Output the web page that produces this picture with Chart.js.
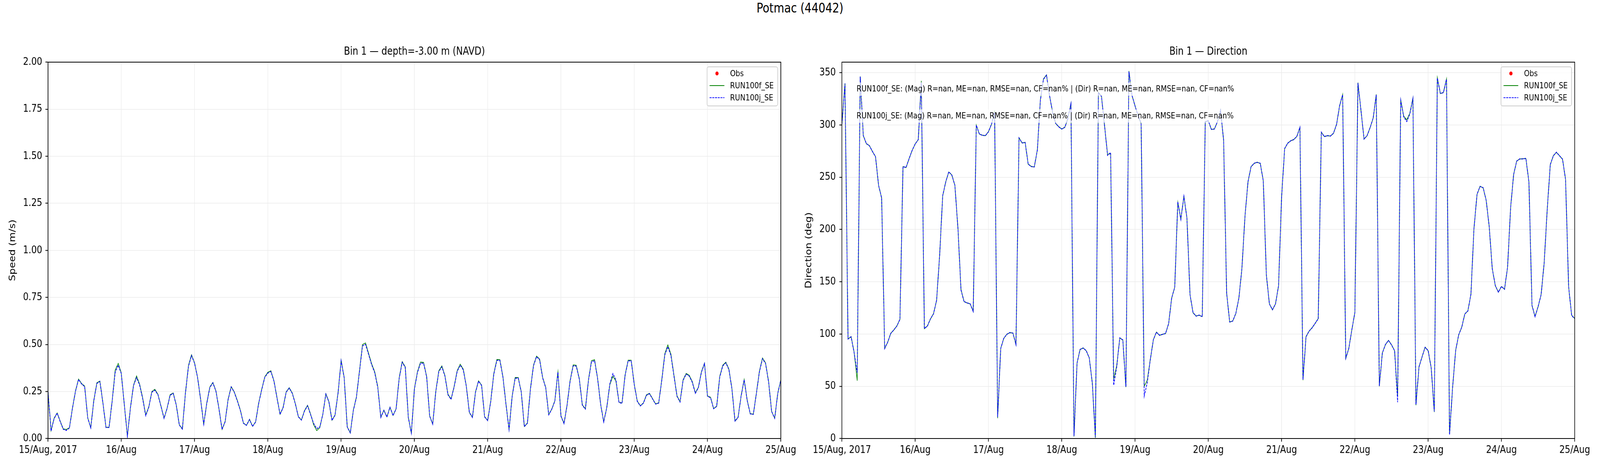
<!DOCTYPE html>
<html>
<head>
<meta charset="utf-8">
<title>Potmac (44042)</title>
<script src="https://cdn.jsdelivr.net/npm/chart.js@4.4.1/dist/chart.umd.min.js"></script>
<style>
    html, body { margin: 0; padding: 0; width: 100%; height: 100%; overflow: hidden; background: #fff; }
    #stage { position: relative; width: 100vw; height: 100vh; overflow: hidden; background: #fff; }
    #wrap { position: absolute; left: 0; top: 0; width: 5000px; height: 1200px; background: #fff; transform-origin: 0 0; }
    #suptitle {
        position: absolute; left: 0; top: 0; width: 5000px;
        text-align: center; font: 34px "DejaVu Sans", sans-serif; line-height: 40px; color: #000;
    }
    canvas { position: absolute; top: 0; }
</style>
</head>
<body>
<div id="stage">
<div id="wrap">
    <div id="suptitle">Potmac (44042)</div>
    <canvas id="speed-chart" width="2500" height="1200" style="left:0"></canvas>
    <canvas id="dir-chart" width="2500" height="1200" style="left:2500px"></canvas>
</div>
</div>
<script>
// Hourly samples, 15/Aug/2017 00:00 -> 25/Aug/2017 00:00 (hour index 0..240)
const dayTicks = [0, 24, 48, 72, 96, 120, 144, 168, 192, 216, 240];
const dayLabels = ['15/Aug, 2017', '16/Aug', '17/Aug', '18/Aug', '19/Aug', '20/Aug',
    '21/Aug', '22/Aug', '23/Aug', '24/Aug', '25/Aug'];

const speedTicks = [0, 0.25, 0.5, 0.75, 1.0, 1.25, 1.5, 1.75, 2.0];
const dirTicks = [0, 50, 100, 150, 200, 250, 300, 350];

// No observations in this window
const obsSpeed = [];
const obsDir = [];

// Bin 1 speed (m/s)
const speedF = [
    0.250, 0.042, 0.108, 0.136, 0.092, 0.051, 0.048, 0.057, 0.161, 0.253, 0.316, 0.292,
    0.279, 0.111, 0.057, 0.203, 0.296, 0.305, 0.187, 0.059, 0.060, 0.199, 0.364, 0.399,
    0.348, 0.179, 0.014, 0.165, 0.283, 0.332, 0.289, 0.217, 0.125, 0.168, 0.249, 0.262,
    0.235, 0.173, 0.108, 0.161, 0.233, 0.242, 0.179, 0.073, 0.051, 0.241, 0.388, 0.445,
    0.402, 0.324, 0.206, 0.076, 0.189, 0.274, 0.298, 0.253, 0.158, 0.048, 0.090, 0.210,
    0.276, 0.248, 0.203, 0.151, 0.082, 0.070, 0.102, 0.065, 0.089, 0.189, 0.262, 0.328,
    0.352, 0.360, 0.307, 0.217, 0.129, 0.166, 0.248, 0.270, 0.242, 0.186, 0.116, 0.099,
    0.148, 0.177, 0.130, 0.073, 0.042, 0.057, 0.129, 0.238, 0.196, 0.097, 0.125, 0.244,
    0.416, 0.325, 0.062, 0.030, 0.151, 0.220, 0.359, 0.499, 0.508, 0.452, 0.397, 0.355,
    0.276, 0.113, 0.151, 0.115, 0.167, 0.123, 0.158, 0.321, 0.409, 0.381, 0.113, 0.028,
    0.265, 0.355, 0.406, 0.405, 0.331, 0.120, 0.076, 0.251, 0.360, 0.386, 0.334, 0.235,
    0.210, 0.276, 0.360, 0.395, 0.369, 0.279, 0.139, 0.113, 0.247, 0.307, 0.284, 0.116,
    0.096, 0.199, 0.345, 0.420, 0.419, 0.328, 0.182, 0.047, 0.224, 0.324, 0.324, 0.248,
    0.064, 0.082, 0.265, 0.390, 0.438, 0.422, 0.325, 0.272, 0.127, 0.157, 0.201, 0.355,
    0.120, 0.080, 0.179, 0.309, 0.391, 0.389, 0.319, 0.179, 0.158, 0.312, 0.414, 0.419,
    0.320, 0.182, 0.089, 0.165, 0.286, 0.331, 0.305, 0.193, 0.189, 0.338, 0.416, 0.416,
    0.289, 0.199, 0.174, 0.189, 0.232, 0.240, 0.212, 0.184, 0.189, 0.310, 0.450, 0.497,
    0.449, 0.338, 0.227, 0.196, 0.312, 0.346, 0.336, 0.303, 0.243, 0.272, 0.355, 0.400,
    0.226, 0.219, 0.159, 0.172, 0.331, 0.390, 0.406, 0.369, 0.265, 0.093, 0.113, 0.227,
    0.314, 0.203, 0.132, 0.129, 0.241, 0.359, 0.428, 0.402, 0.303, 0.144, 0.108, 0.241,
    0.312
];
const speedJ = [
    0.250, 0.040, 0.106, 0.135, 0.090, 0.049, 0.043, 0.056, 0.160, 0.251, 0.314, 0.290,
    0.276, 0.110, 0.056, 0.201, 0.293, 0.303, 0.186, 0.058, 0.059, 0.197, 0.352, 0.390,
    0.345, 0.178, 0.013, 0.163, 0.281, 0.324, 0.284, 0.212, 0.121, 0.166, 0.246, 0.257,
    0.233, 0.171, 0.107, 0.160, 0.230, 0.240, 0.178, 0.072, 0.050, 0.239, 0.383, 0.441,
    0.400, 0.322, 0.205, 0.076, 0.187, 0.271, 0.296, 0.251, 0.157, 0.048, 0.089, 0.208,
    0.274, 0.246, 0.200, 0.149, 0.081, 0.070, 0.101, 0.064, 0.088, 0.187, 0.260, 0.325,
    0.348, 0.356, 0.305, 0.215, 0.128, 0.164, 0.246, 0.268, 0.240, 0.184, 0.115, 0.098,
    0.146, 0.174, 0.127, 0.080, 0.053, 0.060, 0.128, 0.236, 0.194, 0.096, 0.124, 0.242,
    0.414, 0.322, 0.061, 0.030, 0.149, 0.218, 0.355, 0.492, 0.500, 0.447, 0.392, 0.350,
    0.271, 0.112, 0.150, 0.114, 0.166, 0.122, 0.157, 0.318, 0.405, 0.378, 0.112, 0.028,
    0.263, 0.351, 0.400, 0.400, 0.328, 0.119, 0.076, 0.249, 0.356, 0.381, 0.331, 0.232,
    0.208, 0.273, 0.356, 0.390, 0.365, 0.277, 0.138, 0.112, 0.245, 0.305, 0.282, 0.115,
    0.095, 0.197, 0.342, 0.415, 0.415, 0.325, 0.180, 0.047, 0.222, 0.320, 0.321, 0.246,
    0.063, 0.081, 0.262, 0.386, 0.435, 0.419, 0.322, 0.270, 0.126, 0.156, 0.199, 0.353,
    0.119, 0.079, 0.177, 0.306, 0.386, 0.385, 0.316, 0.177, 0.156, 0.309, 0.408, 0.414,
    0.318, 0.180, 0.088, 0.164, 0.290, 0.345, 0.312, 0.191, 0.187, 0.335, 0.413, 0.413,
    0.286, 0.197, 0.173, 0.188, 0.230, 0.238, 0.210, 0.183, 0.188, 0.307, 0.444, 0.488,
    0.442, 0.333, 0.224, 0.194, 0.309, 0.342, 0.332, 0.299, 0.240, 0.270, 0.352, 0.398,
    0.224, 0.217, 0.158, 0.171, 0.327, 0.386, 0.402, 0.366, 0.262, 0.092, 0.112, 0.225,
    0.312, 0.201, 0.131, 0.128, 0.239, 0.355, 0.424, 0.399, 0.300, 0.143, 0.107, 0.239,
    0.310
];

// Bin 1 direction (deg)
const dirF = [
    300.6, 339.7, 95.1, 97.5, 82.7, 55.3, 346.3, 289.6, 281.9, 280.2, 274.4, 269.7,
    242.0, 230.3, 86.2, 92.1, 100.7, 103.8, 107.8, 113.9, 260.1, 259.1, 267.8, 275.5,
    281.9, 285.8, 342.1, 105.0, 107.8, 114.3, 119.5, 131.9, 175.3, 232.0, 245.6, 254.9,
    252.1, 242.0, 201.0, 142.5, 131.2, 129.6, 128.9, 121.4, 299.9, 291.2, 290.1, 289.6,
    293.6, 300.6, 312.3, 19.4, 86.2, 95.6, 99.8, 101.2, 101.0, 89.7, 287.7, 282.6,
    283.3, 262.4, 260.3, 259.6, 276.0, 324.0, 344.0, 347.9, 327.6, 312.3, 301.3, 298.3,
    295.9, 297.8, 305.8, 320.5, 1.9, 72.2, 85.1, 86.7, 83.9, 77.3, 53.4, 0.7,
    331.1, 327.6, 299.4, 271.8, 272.5, 56.9, 69.8, 96.1, 94.4, 49.2, 351.5, 328.0,
    318.2, 308.8, 301.3, 49.9, 55.8, 75.7, 94.4, 101.9, 98.6, 99.8, 100.3, 110.1,
    134.3, 144.8, 226.1, 209.9, 231.5, 210.9, 137.8, 120.2, 117.2, 117.9, 116.7, 303.0,
    304.1, 295.5, 296.2, 303.0, 314.0, 285.4, 138.9, 111.3, 112.5, 119.5, 134.3, 162.4,
    212.7, 245.6, 260.1, 263.1, 264.3, 263.1, 246.7, 156.5, 128.9, 123.0, 128.9, 146.0,
    231.5, 277.2, 282.6, 284.7, 286.1, 288.9, 297.8, 55.8, 97.5, 102.6, 106.1, 110.1,
    114.8, 292.9, 288.9, 289.6, 289.4, 291.9, 300.6, 318.2, 329.2, 76.4, 86.2, 103.8,
    120.9, 340.4, 313.5, 286.5, 289.6, 297.6, 306.5, 329.2, 49.9, 82.0, 89.7, 94.0,
    89.7, 83.9, 40.5, 324.0, 308.3, 304.8, 311.2, 325.7, 31.9, 68.7, 78.0, 87.4,
    83.9, 67.5, 25.3, 345.1, 329.9, 331.1, 344.0, 4.2, 48.7, 84.3, 99.1, 106.6,
    119.0, 122.1, 137.8, 201.0, 233.4, 241.3, 239.7, 228.0, 202.2, 162.4, 146.0, 140.1,
    145.3, 142.9, 163.5, 220.9, 252.6, 265.5, 267.3, 267.6, 267.8, 245.6, 127.2, 116.7,
    126.0, 137.8, 168.2, 219.7, 261.9, 270.6, 273.7, 270.6, 267.1, 247.9, 144.8, 117.9,
    114.8
];
const dirJ = [
    300.4, 339.5, 95.3, 97.2, 82.0, 63.0, 346.0, 289.8, 282.1, 280.0, 274.6, 269.5,
    242.3, 230.1, 86.0, 92.3, 100.5, 103.9, 107.6, 114.1, 260.0, 259.3, 267.6, 275.7,
    281.7, 285.9, 340.5, 105.2, 107.6, 114.5, 119.3, 132.2, 175.0, 232.3, 245.4, 255.1,
    251.9, 242.2, 200.6, 142.0, 130.8, 129.8, 128.7, 121.6, 299.7, 291.4, 289.9, 289.8,
    293.4, 300.8, 312.0, 20.5, 86.0, 95.8, 99.6, 101.4, 100.8, 89.9, 287.5, 282.8,
    283.1, 262.6, 260.1, 259.8, 275.8, 323.6, 343.6, 347.5, 327.9, 312.0, 301.5, 298.1,
    296.1, 297.6, 306.0, 320.2, 2.4, 72.0, 85.3, 86.5, 84.1, 77.1, 53.0, 1.2,
    330.6, 327.2, 299.6, 270.8, 273.5, 51.0, 68.5, 96.3, 94.2, 49.5, 351.0, 328.3,
    318.0, 309.0, 301.1, 40.5, 53.5, 75.5, 94.6, 101.7, 98.8, 99.6, 100.5, 109.9,
    134.5, 144.6, 226.5, 209.5, 231.8, 210.6, 137.6, 120.4, 117.0, 118.1, 116.5, 303.2,
    303.9, 295.7, 296.0, 303.2, 313.6, 285.6, 138.6, 111.5, 112.3, 119.7, 134.1, 162.7,
    212.4, 245.8, 259.9, 263.3, 264.1, 263.3, 246.4, 156.8, 128.7, 123.2, 128.7, 146.2,
    231.2, 277.4, 282.4, 284.9, 285.9, 289.1, 297.6, 56.3, 97.3, 102.8, 105.9, 110.3,
    114.6, 293.1, 288.7, 289.8, 289.2, 292.1, 300.4, 318.5, 328.9, 76.7, 86.0, 104.0,
    120.7, 340.0, 313.8, 286.3, 289.8, 297.4, 306.7, 328.8, 50.3, 81.8, 89.9, 93.8,
    89.5, 84.1, 34.7, 323.6, 307.6, 303.2, 310.4, 325.2, 32.5, 68.5, 78.2, 87.2,
    84.1, 67.3, 25.8, 344.8, 330.1, 330.8, 343.6, 3.6, 48.9, 84.1, 99.3, 106.4,
    119.2, 121.9, 138.0, 200.7, 233.6, 241.1, 239.9, 227.8, 202.5, 162.2, 146.2, 139.9,
    145.5, 142.7, 163.8, 220.6, 252.8, 265.3, 267.5, 267.4, 268.0, 245.3, 127.5, 116.5,
    126.2, 137.6, 168.5, 219.4, 262.1, 270.4, 273.9, 270.4, 267.3, 247.6, 145.1, 117.7,
    114.6
];

const statsText = [
    'RUN100f_SE: (Mag) R=nan, ME=nan, RMSE=nan, CF=nan% | (Dir) R=nan, ME=nan, RMSE=nan, CF=nan%',
    'RUN100j_SE: (Mag) R=nan, ME=nan, RMSE=nan, CF=nan% | (Dir) R=nan, ME=nan, RMSE=nan, CF=nan%'
];

const FONT = '"DejaVu Sans", sans-serif';

// The figure is laid out on a 5000x1200 grid and stretched to fill the real window
const scaleX = window.innerWidth / 5000;
const scaleY = window.innerHeight / 1200;
document.getElementById('wrap').style.transform = 'scale(' + scaleX + ',' + scaleY + ')';

// hour index -> {x, y}
function toXY(values) {
    return values.map((v, i) => ({ x: i, y: v }));
}

// Subplot title, full box spines, legend and stats text (matplotlib look)
const decorPlugin = {
    id: 'decor',
    afterDraw(chart, args, opts) {
        const ctx = chart.ctx;
        const area = chart.chartArea;
        ctx.save();

        // stats annotations with translucent white box
        ctx.font = '22px ' + FONT;
        ctx.textBaseline = 'middle';
        ctx.textAlign = 'left';
        (opts.notes || []).forEach((txt, i) => {
            const x = area.left + 0.02 * (area.right - area.left);
            const y = area.top + opts.noteY[i] * (area.bottom - area.top);
            const w = ctx.measureText(txt).width;
            ctx.fillStyle = 'rgba(255,255,255,0.7)';
            ctx.fillRect(x - 6, y - 17, w + 12, 34);
            ctx.fillStyle = '#000';
            ctx.fillText(txt, x, y);
        });

        // spines
        ctx.strokeStyle = '#000';
        ctx.lineWidth = 2;
        ctx.strokeRect(area.left, area.top, area.right - area.left, area.bottom - area.top);

        // subplot title
        ctx.fillStyle = '#000';
        ctx.font = '28px ' + FONT;
        ctx.textAlign = 'center';
        ctx.textBaseline = 'middle';
        ctx.fillText(opts.title, (area.left + area.right) / 2, area.top - 26);

        // legend box in upper right corner
        ctx.font = '22px ' + FONT;
        ctx.textAlign = 'left';
        const items = chart.data.datasets;
        const textW = Math.max(...items.map(d => ctx.measureText(d.label).width));
        const boxW = 72 + textW + 12;
        const boxH = 100;
        const bx = area.right - 10 - boxW;
        const by = area.top + 12;
        ctx.fillStyle = 'rgba(255,255,255,0.8)';
        ctx.strokeStyle = '#cccccc';
        ctx.lineWidth = 2;
        ctx.beginPath();
        ctx.roundRect(bx, by, boxW, boxH, 5);
        ctx.fill();
        ctx.stroke();
        items.forEach((d, i) => {
            const cy = by + 17 + i * 31;
            if (d.showLine === false) {
                ctx.fillStyle = d.pointBackgroundColor;
                ctx.beginPath();
                ctx.arc(bx + 31, cy, 5, 0, Math.PI * 2);
                ctx.fill();
            } else {
                ctx.strokeStyle = d.borderColor;
                ctx.lineWidth = d.borderWidth;
                ctx.setLineDash(d.borderDash || []);
                ctx.beginPath();
                ctx.moveTo(bx + 8, cy);
                ctx.lineTo(bx + 54, cy);
                ctx.stroke();
                ctx.setLineDash([]);
            }
            ctx.fillStyle = '#000';
            ctx.fillText(d.label, bx + 72, cy + 1);
        });
        ctx.restore();
    }
};

function makeChart(canvasId, cfg) {
    const gridStyle = { color: '#ebebeb', lineWidth: 1.5, tickLength: 8, tickColor: '#000', tickWidth: 2 };
    return new Chart(document.getElementById(canvasId), {
        type: 'line',
        data: {
            datasets: [
                { label: 'Obs', data: toXY(cfg.obs), showLine: false, pointRadius: 5,
                  pointBackgroundColor: 'red', borderColor: 'red', order: 0 },
                { label: 'RUN100f_SE', data: toXY(cfg.runF), borderColor: 'green', borderWidth: 1.8,
                  pointRadius: 0, fill: false, order: 2 },
                { label: 'RUN100j_SE', data: toXY(cfg.runJ), borderColor: 'blue', borderWidth: 2.2,
                  borderDash: [6, 2.5], pointRadius: 0, fill: false, order: 1 }
            ]
        },
        options: {
            responsive: false,
            animation: false,
            devicePixelRatio: 1,
            layout: { padding: { left: 0, right: cfg.padRight, top: 159, bottom: 0 } },
            plugins: {
                legend: { display: false },
                tooltip: { enabled: false },
                title: { display: false },
                decor: { title: cfg.title, notes: cfg.notes, noteY: [0.0717, 0.1433] }
            },
            scales: {
                x: {
                    type: 'linear',
                    min: 0,
                    max: 240,
                    afterBuildTicks: s => { s.ticks = dayTicks.map(v => ({ value: v })); },
                    afterFit: s => { s.height = 78; },
                    ticks: {
                        callback: v => dayLabels[dayTicks.indexOf(v)],
                        autoSkip: false,
                        maxRotation: 0,
                        padding: 6,
                        color: '#000',
                        font: { family: FONT, size: 27 }
                    },
                    grid: gridStyle,
                    border: { color: '#000', width: 2 }
                },
                y: {
                    min: cfg.yMin,
                    max: cfg.yMax,
                    afterBuildTicks: s => { s.ticks = cfg.yTicks.map(v => ({ value: v })); },
                    afterFit: s => { s.width = cfg.axisWidth; },
                    ticks: {
                        callback: cfg.yFormat,
                        padding: cfg.tickPad,
                        color: '#000',
                        font: { family: FONT, size: 27 }
                    },
                    title: {
                        display: true,
                        text: cfg.yTitle,
                        color: '#000',
                        font: { family: FONT, size: 26 },
                        padding: { top: cfg.titlePad, bottom: 0 }
                    },
                    grid: gridStyle,
                    border: { color: '#000', width: 2 }
                }
            }
        },
        plugins: [decorPlugin]
    });
}

makeChart('speed-chart', {
    obs: obsSpeed, runF: speedF, runJ: speedJ,
    title: 'Bin 1 \u2014 depth=-3.00 m (NAVD)',
    yTitle: 'Speed (m/s)',
    yMin: 0, yMax: 2, yTicks: speedTicks, yFormat: v => v.toFixed(2),
    axisWidth: 150, padRight: 60, tickPad: 10, titlePad: 25,
    notes: []
});

makeChart('dir-chart', {
    obs: obsDir, runF: dirF, runJ: dirJ,
    title: 'Bin 1 \u2014 Direction',
    yTitle: 'Direction (deg)',
    yMin: 0, yMax: 360, yTicks: dirTicks, yFormat: v => String(v),
    axisWidth: 131, padRight: 79, tickPad: 11, titlePad: 13,
    notes: statsText
});
</script>
</body>
</html>
